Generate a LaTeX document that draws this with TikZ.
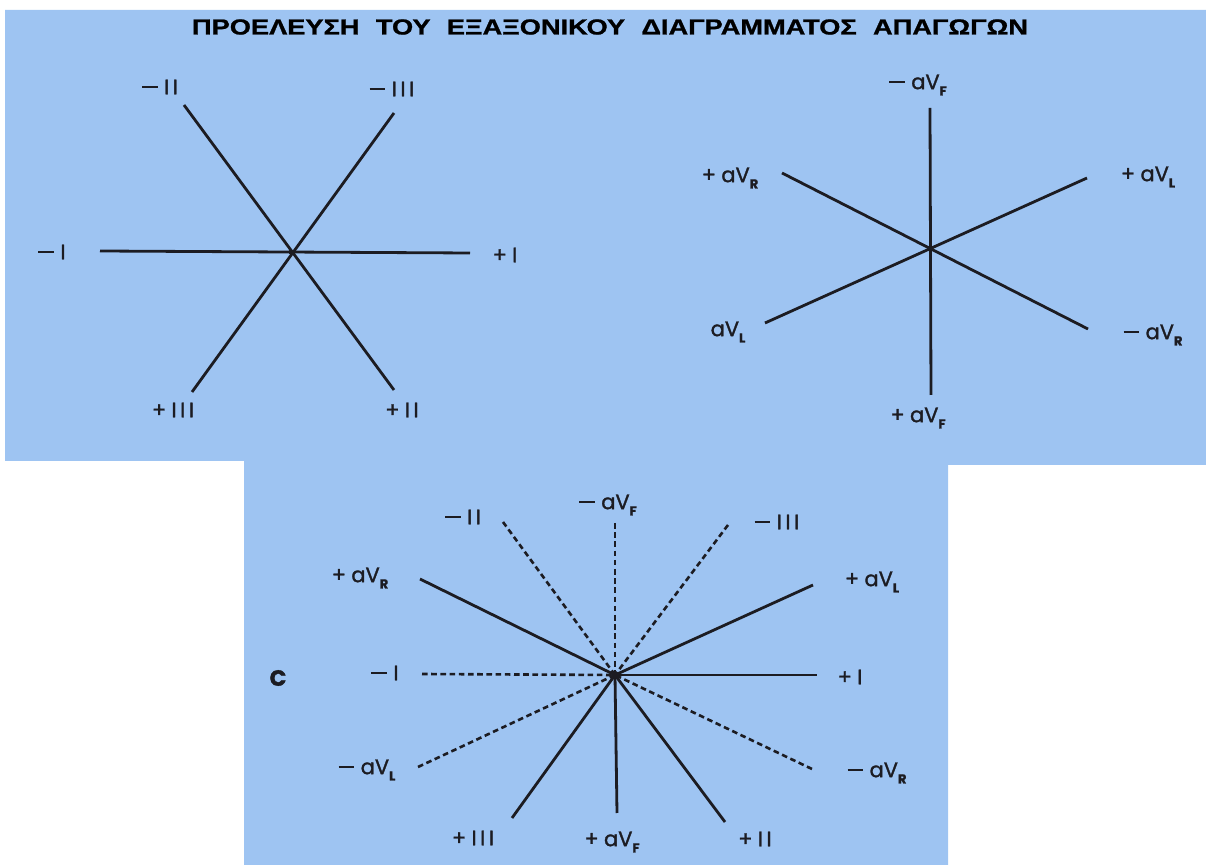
\documentclass[tikz,border=0pt]{standalone}
\usepackage{fontspec}
\usepackage{graphicx}
\setmainfont{Poppins}[FakeBold=1.5]
\newfontfamily\titlefont{Liberation Sans}[FakeBold=1]
\usetikzlibrary{positioning}
\definecolor{sheetblue}{RGB}{158,196,242}
\definecolor{ink}{RGB}{28,28,34}
\newcommand{\lsub}[1]{\raisebox{-0.55ex}{\fontsize{6.5}{6.5}\selectfont\bfseries #1}}
\newcommand{\mn}{\rule[0.3em]{0.75em}{0.1em}\hspace{0.3em}}
\newcommand{\pl}{+\hspace{0.25em}}

\begin{document}
\begin{tikzpicture}[
    x=0.5pt, y=-0.5pt,
    axis/.style={draw=ink, line width=1.4pt},
    dashaxis/.style={draw=ink, line width=1.3pt, dash pattern=on 2.8pt off 1.8pt},
    lbl/.style={text=ink, font=\fontsize{10.5}{11}\selectfont, inner sep=0pt},
    title/.style={text=black, font=\titlefont\bfseries, inner sep=0pt}
]
\useasboundingbox (0,0) rectangle (1206,865);
\fill[sheetblue] (5,10) -- (1206,10) -- (1206,465) -- (948,465) -- (948,865)
    -- (244,865) -- (244,461) -- (5,461) -- cycle;

\node[title] (title) at (610,27) {\resizebox{418pt}{7.6pt}{ΠΡΟΕΛΕΥΣΗ\hspace{0.6em}ΤΟΥ\hspace{0.6em}ΕΞΑΞΟΝΙΚΟΥ\hspace{0.6em}ΔΙΑΓΡΑΜΜΑΤΟΣ\hspace{0.6em}ΑΠΑΓΩΓΩΝ}};

% bipolar leads
\coordinate (hubA) at (291,252);
\coordinate (endmI) at (100,251);
\coordinate (endpI) at (470,253);
\coordinate (endmII) at (184,105);
\coordinate (endpII) at (394,390);
\coordinate (endmIII) at (394,113);
\coordinate (endpIII) at (192,392);

\node[lbl] (mI) at (52,252) {\mn I};
\node[lbl] (pI) at (505,255) {\pl I};
\node[lbl] (mII) at (160,87) {\mn I\,I};
\node[lbl] (mIII) at (392,89) {\mn I\,I\,I};
\node[lbl] (pIII) at (173,410) {\pl I\,I\,I};
\node[lbl] (pII) at (402,410) {\pl I\,I};

\draw[axis] (endmI) -- (endpI);
\draw[axis] (endmII) -- (endpII);
\draw[axis] (endmIII) -- (endpIII);
\fill[ink] (hubA) circle (2.5);

% augmented leads
\coordinate (hubB) at (931,248);
\coordinate (endmF) at (930,108);
\coordinate (endpF) at (931,395);
\coordinate (endpR) at (782,173);
\coordinate (endmR) at (1088,329);
\coordinate (endpL) at (1087,178);
\coordinate (endmL) at (765,323);

\node[lbl] (mF) at (918,85) {\mn aV\lsub{F}};
\node[lbl] (pR) at (730,178) {\pl aV\lsub{R}};
\node[lbl] (pL) at (1148,177) {\pl aV\lsub{L}};
\node[lbl] (mL) at (728,332) {aV\lsub{L}};
\node[lbl] (mR) at (1153,335) {\mn aV\lsub{R}};
\node[lbl] (pF) at (918,418) {\pl aV\lsub{F}};

\draw[axis] (endmF) -- (endpF);
\draw[axis] (endpR) -- (endmR);
\draw[axis] (endpL) -- (endmL);
\fill[ink] (hubB) circle (2.5);

% hexaxial system
\coordinate (hubC) at (615,675);
\coordinate (cmF) at (615,523);
\coordinate (cmII) at (503,522);
\coordinate (cmIII) at (728,525);
\coordinate (cmI) at (422,674);
\coordinate (cmL) at (418,767);
\coordinate (cmR) at (812,769);
\coordinate (cpR) at (420,579);
\coordinate (cpL) at (813,585);
\coordinate (cpI) at (817,675);
\coordinate (cpIII) at (512,818);
\coordinate (cpF) at (617,813);
\coordinate (cpII) at (725,822);

\node[lbl] (hmF) at (608,505) {\mn aV\lsub{F}};
\node[lbl] (hmII) at (463,517) {\mn I\,I};
\node[lbl] (hmIII) at (777,522) {\mn I\,I\,I};
\node[lbl] (hpR) at (360,578) {\pl aV\lsub{R}};
\node[lbl] (hpL) at (872,582) {\pl aV\lsub{L}};
\node[lbl, font=\fontsize{11}{11}\selectfont\bfseries] (panelC) at (278,678) {C};
\node[lbl] (hmI) at (385,673) {\mn I};
\node[lbl] (hpI) at (850,677) {\pl I};
\node[lbl] (hmL) at (367,770) {\mn aV\lsub{L}};
\node[lbl] (hmR) at (877,773) {\mn aV\lsub{R}};
\node[lbl] (hpIII) at (473,838) {\pl I\,I\,I};
\node[lbl] (hpF) at (612,842) {\pl aV\lsub{F}};
\node[lbl] (hpII) at (755,839) {\pl I\,I};

\foreach \e in {cmF,cmII,cmIII,cmI,cmL,cmR}
    \draw[dashaxis] (\e) -- (hubC);
\foreach \e in {cpR,cpL,cpI,cpIII,cpF,cpII}
    \draw[axis] (hubC) -- (\e);
\fill[ink] (hubC) circle (3.5);
\end{tikzpicture}
\end{document}
